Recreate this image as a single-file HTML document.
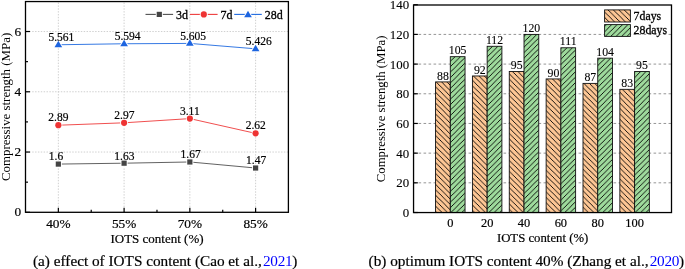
<!DOCTYPE html><html><head><meta charset="utf-8"><style>html,body{margin:0;padding:0;background:#fff;}svg{display:block;will-change:transform;}text{font-family:"Liberation Serif",serif;fill:#000;}.b{stroke:#000;stroke-width:0.3px;}.m{stroke:#000;stroke-width:0.2px;}.s{stroke:#000;stroke-width:0.1px;}tspan{stroke:none;}</style></head><body>
<svg width="685" height="269" viewBox="0 0 685 269">
<defs>
<pattern id="ho" patternUnits="userSpaceOnUse" width="5.42" height="5.42" x="1.9" y="0"><rect width="5.42" height="5.42" fill="#FDC694"/><path d="M-1,-1 L6.42,6.42 M-1,4.42 L1,6.42 M4.42,-1 L6.42,1" stroke="#000" stroke-width="0.9"/></pattern>
<pattern id="hg" patternUnits="userSpaceOnUse" width="5.42" height="5.42" x="2.2" y="0"><rect width="5.42" height="5.42" fill="#9EDA9C"/><path d="M-1,6.42 L6.42,-1 M-1,1 L1,-1 M4.42,6.42 L6.42,4.42" stroke="#000" stroke-width="0.9"/></pattern>
</defs>
<g stroke="#cbcbcb" stroke-width="0.9" stroke-dasharray="1.43 1.43" stroke-dashoffset="-1"><line x1="25.5" y1="152.04" x2="288.4" y2="152.04"/><line x1="25.5" y1="91.78" x2="288.4" y2="91.78"/><line x1="25.5" y1="31.52" x2="288.4" y2="31.52"/><line x1="58.35" y1="1.55" x2="58.35" y2="212.3"/><line x1="124.1" y1="1.55" x2="124.1" y2="212.3"/><line x1="189.85" y1="1.55" x2="189.85" y2="212.3"/><line x1="255.6" y1="1.55" x2="255.6" y2="212.3"/></g>
<g stroke="#000" stroke-width="1.2"><line x1="25.5" y1="212.30" x2="30.0" y2="212.30"/><line x1="25.5" y1="152.04" x2="30.0" y2="152.04"/><line x1="25.5" y1="91.78" x2="30.0" y2="91.78"/><line x1="25.5" y1="31.52" x2="30.0" y2="31.52"/><line x1="25.5" y1="182.17" x2="28.0" y2="182.17"/><line x1="25.5" y1="121.91" x2="28.0" y2="121.91"/><line x1="25.5" y1="61.65" x2="28.0" y2="61.65"/><line x1="58.35" y1="212.3" x2="58.35" y2="207.8"/><line x1="124.1" y1="212.3" x2="124.1" y2="207.8"/><line x1="189.85" y1="212.3" x2="189.85" y2="207.8"/><line x1="255.6" y1="212.3" x2="255.6" y2="207.8"/><line x1="91.225" y1="212.3" x2="91.225" y2="209.8"/><line x1="156.975" y1="212.3" x2="156.975" y2="209.8"/><line x1="222.725" y1="212.3" x2="222.725" y2="209.8"/></g>
<polyline points="58.35,164.09 124.10,163.19 189.85,161.98 255.60,168.01" fill="none" stroke="#505050" stroke-width="0.9"/>
<rect x="55.75" y="161.49" width="5.2" height="5.2" fill="#fff" stroke="#fff" stroke-width="1.8" stroke-linejoin="round"/><rect x="55.75" y="161.49" width="5.2" height="5.2" fill="#444444"/>
<rect x="121.50" y="160.59" width="5.2" height="5.2" fill="#fff" stroke="#fff" stroke-width="1.8" stroke-linejoin="round"/><rect x="121.50" y="160.59" width="5.2" height="5.2" fill="#444444"/>
<rect x="187.25" y="159.38" width="5.2" height="5.2" fill="#fff" stroke="#fff" stroke-width="1.8" stroke-linejoin="round"/><rect x="187.25" y="159.38" width="5.2" height="5.2" fill="#444444"/>
<rect x="253.00" y="165.41" width="5.2" height="5.2" fill="#fff" stroke="#fff" stroke-width="1.8" stroke-linejoin="round"/><rect x="253.00" y="165.41" width="5.2" height="5.2" fill="#444444"/>
<polyline points="58.35,125.22 124.10,122.81 189.85,118.60 255.60,133.36" fill="none" stroke="#EE3B3B" stroke-width="0.9"/>
<circle cx="58.35" cy="125.22" r="3.1" fill="#fff" stroke="#fff" stroke-width="1.8" stroke-linejoin="round"/><circle cx="58.35" cy="125.22" r="3.1" fill="#EE3434"/>
<circle cx="124.10" cy="122.81" r="3.1" fill="#fff" stroke="#fff" stroke-width="1.8" stroke-linejoin="round"/><circle cx="124.10" cy="122.81" r="3.1" fill="#EE3434"/>
<circle cx="189.85" cy="118.60" r="3.1" fill="#fff" stroke="#fff" stroke-width="1.8" stroke-linejoin="round"/><circle cx="189.85" cy="118.60" r="3.1" fill="#EE3434"/>
<circle cx="255.60" cy="133.36" r="3.1" fill="#fff" stroke="#fff" stroke-width="1.8" stroke-linejoin="round"/><circle cx="255.60" cy="133.36" r="3.1" fill="#EE3434"/>
<polyline points="58.35,44.75 124.10,43.75 189.85,43.42 255.60,48.81" fill="none" stroke="#1F6AE0" stroke-width="0.9"/>
<path d="M58.35,40.70 L62.20,47.15 L54.50,47.15 Z" fill="#fff" stroke="#fff" stroke-width="1.8" stroke-linejoin="round"/><path d="M58.35,40.70 L62.20,47.15 L54.50,47.15 Z" fill="#1C64E0"/>
<path d="M124.10,39.70 L127.95,46.15 L120.25,46.15 Z" fill="#fff" stroke="#fff" stroke-width="1.8" stroke-linejoin="round"/><path d="M124.10,39.70 L127.95,46.15 L120.25,46.15 Z" fill="#1C64E0"/>
<path d="M189.85,39.37 L193.70,45.82 L186.00,45.82 Z" fill="#fff" stroke="#fff" stroke-width="1.8" stroke-linejoin="round"/><path d="M189.85,39.37 L193.70,45.82 L186.00,45.82 Z" fill="#1C64E0"/>
<path d="M255.60,44.76 L259.45,51.21 L251.75,51.21 Z" fill="#fff" stroke="#fff" stroke-width="1.8" stroke-linejoin="round"/><path d="M255.60,44.76 L259.45,51.21 L251.75,51.21 Z" fill="#1C64E0"/>
<text class="m" x="55.95" y="160.49" font-size="11.5" text-anchor="middle">1.6</text>
<text class="m" x="124.40" y="159.59" font-size="11.5" text-anchor="middle">1.63</text>
<text class="m" x="190.65" y="158.38" font-size="11.5" text-anchor="middle">1.67</text>
<text class="m" x="256.10" y="164.41" font-size="11.5" text-anchor="middle">1.47</text>
<text class="m" x="58.35" y="121.32" font-size="11.5" text-anchor="middle">2.89</text>
<text class="m" x="124.40" y="118.91" font-size="11.5" text-anchor="middle">2.97</text>
<text class="m" x="189.85" y="114.70" font-size="11.5" text-anchor="middle">3.11</text>
<text class="m" x="255.80" y="129.46" font-size="11.5" text-anchor="middle">2.62</text>
<text class="m" x="61.35" y="41.25" font-size="11.5" text-anchor="middle">5.561</text>
<text class="m" x="127.60" y="40.25" font-size="11.5" text-anchor="middle">5.594</text>
<text class="m" x="193.15" y="39.92" font-size="11.5" text-anchor="middle">5.605</text>
<text class="m" x="258.80" y="45.31" font-size="11.5" text-anchor="middle">5.426</text>
<line x1="145.5" y1="14.4" x2="173.1" y2="14.4" stroke="#505050" stroke-width="1.1"/>
<rect x="156.70" y="11.80" width="5.2" height="5.2" fill="#fff" stroke="#fff" stroke-width="1.8" stroke-linejoin="round"/><rect x="156.70" y="11.80" width="5.2" height="5.2" fill="#444444"/>
<text class="b" x="176.1" y="18.9" font-size="12">3d</text>
<line x1="190" y1="14.4" x2="217.6" y2="14.4" stroke="#EE3B3B" stroke-width="1.1"/>
<circle cx="203.80" cy="14.40" r="3.1" fill="#fff" stroke="#fff" stroke-width="1.8" stroke-linejoin="round"/><circle cx="203.80" cy="14.40" r="3.1" fill="#EE3434"/>
<text class="b" x="220.6" y="18.9" font-size="12">7d</text>
<line x1="234.2" y1="14.4" x2="261.8" y2="14.4" stroke="#1F6AE0" stroke-width="1.1"/>
<path d="M248.00,10.75 L251.85,17.20 L244.15,17.20 Z" fill="#fff" stroke="#fff" stroke-width="1.8" stroke-linejoin="round"/><path d="M248.00,10.75 L251.85,17.20 L244.15,17.20 Z" fill="#1C64E0"/>
<text class="b" x="264.8" y="18.9" font-size="12">28d</text>
<rect x="25.5" y="1.55" width="262.90" height="210.75" fill="none" stroke="#000" stroke-width="1.3"/>
<text class="m" x="21.1" y="216.40" font-size="13.3" text-anchor="end">0</text>
<text class="m" x="21.1" y="156.14" font-size="13.3" text-anchor="end">2</text>
<text class="m" x="21.1" y="95.88" font-size="13.3" text-anchor="end">4</text>
<text class="m" x="21.1" y="35.62" font-size="13.3" text-anchor="end">6</text>
<text class="m" x="58.35" y="227.7" font-size="13.3" text-anchor="middle">40%</text>
<text class="m" x="124.10" y="227.7" font-size="13.3" text-anchor="middle">55%</text>
<text class="m" x="189.85" y="227.7" font-size="13.3" text-anchor="middle">70%</text>
<text class="m" x="255.60" y="227.7" font-size="13.3" text-anchor="middle">85%</text>
<text class="m" x="157" y="242.9" font-size="13" text-anchor="middle">IOTS content (%)</text>
<text transform="translate(10.2,106.9) rotate(-90)" font-size="12.9" text-anchor="middle">Compressive strength (MPa)</text>
<text class="m" x="33" y="265.8" font-size="15.25">(a) effect of IOTS content (Cao et al.,<tspan fill="#0000FF" dx="1.2" letter-spacing="-0.3">2021</tspan>)</text>
<g stroke="#8a8a8a" stroke-width="0.9" stroke-dasharray="2.6 2.4"><line x1="413.55" y1="182.82" x2="671.5" y2="182.82"/><line x1="413.55" y1="153.14" x2="671.5" y2="153.14"/><line x1="413.55" y1="123.46" x2="671.5" y2="123.46"/><line x1="413.55" y1="93.78" x2="671.5" y2="93.78"/><line x1="413.55" y1="64.10" x2="671.5" y2="64.10"/><line x1="413.55" y1="34.42" x2="671.5" y2="34.42"/></g>
<g stroke="#000" stroke-width="1.2"><line x1="413.55" y1="212.50" x2="417.85" y2="212.50"/><line x1="413.55" y1="182.82" x2="417.85" y2="182.82"/><line x1="413.55" y1="153.14" x2="417.85" y2="153.14"/><line x1="413.55" y1="123.46" x2="417.85" y2="123.46"/><line x1="413.55" y1="93.78" x2="417.85" y2="93.78"/><line x1="413.55" y1="64.10" x2="417.85" y2="64.10"/><line x1="413.55" y1="34.42" x2="417.85" y2="34.42"/><line x1="413.55" y1="4.74" x2="417.85" y2="4.74"/></g>
<rect x="435.56" y="81.91" width="14.74" height="130.64" fill="url(#ho)" stroke="#111" stroke-width="0.9"/>
<rect x="450.30" y="56.68" width="14.74" height="155.87" fill="url(#hg)" stroke="#111" stroke-width="0.9"/>
<text class="s" x="442.93" y="79.61" font-size="11.8" text-anchor="middle">88</text>
<text class="s" x="457.67" y="54.38" font-size="11.8" text-anchor="middle">105</text>
<rect x="472.42" y="75.97" width="14.74" height="136.58" fill="url(#ho)" stroke="#111" stroke-width="0.9"/>
<rect x="487.16" y="46.29" width="14.74" height="166.26" fill="url(#hg)" stroke="#111" stroke-width="0.9"/>
<text class="s" x="479.79" y="73.67" font-size="11.8" text-anchor="middle">92</text>
<text class="s" x="494.53" y="43.99" font-size="11.8" text-anchor="middle">112</text>
<rect x="509.28" y="71.52" width="14.74" height="141.03" fill="url(#ho)" stroke="#111" stroke-width="0.9"/>
<rect x="524.02" y="34.42" width="14.74" height="178.13" fill="url(#hg)" stroke="#111" stroke-width="0.9"/>
<text class="s" x="516.65" y="69.22" font-size="11.8" text-anchor="middle">95</text>
<text class="s" x="531.39" y="32.12" font-size="11.8" text-anchor="middle">120</text>
<rect x="546.14" y="78.94" width="14.74" height="133.61" fill="url(#ho)" stroke="#111" stroke-width="0.9"/>
<rect x="560.88" y="47.78" width="14.74" height="164.77" fill="url(#hg)" stroke="#111" stroke-width="0.9"/>
<text class="s" x="553.51" y="76.64" font-size="11.8" text-anchor="middle">90</text>
<text class="s" x="568.25" y="45.48" font-size="11.8" text-anchor="middle">111</text>
<rect x="583.00" y="83.39" width="14.74" height="129.16" fill="url(#ho)" stroke="#111" stroke-width="0.9"/>
<rect x="597.74" y="58.16" width="14.74" height="154.39" fill="url(#hg)" stroke="#111" stroke-width="0.9"/>
<text class="s" x="590.37" y="81.09" font-size="11.8" text-anchor="middle">87</text>
<text class="s" x="605.11" y="55.86" font-size="11.8" text-anchor="middle">104</text>
<rect x="619.86" y="89.33" width="14.74" height="123.22" fill="url(#ho)" stroke="#111" stroke-width="0.9"/>
<rect x="634.60" y="71.52" width="14.74" height="141.03" fill="url(#hg)" stroke="#111" stroke-width="0.9"/>
<text class="s" x="627.23" y="87.03" font-size="11.8" text-anchor="middle">83</text>
<text class="s" x="641.97" y="69.22" font-size="11.8" text-anchor="middle">95</text>
<rect x="604.6" y="9.9" width="25.8" height="12.1" fill="url(#ho)" stroke="#111" stroke-width="0.9"/>
<rect x="604.6" y="24.6" width="25.8" height="11.8" fill="url(#hg)" stroke="#111" stroke-width="0.9"/>
<text class="b" x="633.6" y="19.6" font-size="11.8">7days</text>
<text class="b" x="633.6" y="34.2" font-size="11.8">28days</text>
<rect x="413.55" y="5.0" width="257.95" height="207.55" fill="none" stroke="#000" stroke-width="1.3"/>
<text class="s" x="409.2" y="217.00" font-size="12.9" text-anchor="end">0</text>
<text class="s" x="409.2" y="187.32" font-size="12.9" text-anchor="end">20</text>
<text class="s" x="409.2" y="157.64" font-size="12.9" text-anchor="end">40</text>
<text class="s" x="409.2" y="127.96" font-size="12.9" text-anchor="end">60</text>
<text class="s" x="409.2" y="98.28" font-size="12.9" text-anchor="end">80</text>
<text class="s" x="409.2" y="68.60" font-size="12.9" text-anchor="end">100</text>
<text class="s" x="409.2" y="38.92" font-size="12.9" text-anchor="end">120</text>
<text class="s" x="409.2" y="9.24" font-size="12.9" text-anchor="end">140</text>
<text class="m" x="450.30" y="227" font-size="12.4" text-anchor="middle">0</text>
<text class="m" x="487.16" y="227" font-size="12.4" text-anchor="middle">20</text>
<text class="m" x="524.02" y="227" font-size="12.4" text-anchor="middle">40</text>
<text class="m" x="560.88" y="227" font-size="12.4" text-anchor="middle">60</text>
<text class="m" x="597.74" y="227" font-size="12.4" text-anchor="middle">80</text>
<text class="m" x="634.60" y="227" font-size="12.4" text-anchor="middle">100</text>
<text class="m" x="542.6" y="241.7" font-size="12.75" text-anchor="middle">IOTS content (%)</text>
<text transform="translate(385.3,108.9) rotate(-90)" font-size="12.75" text-anchor="middle">Compressive strength (MPa)</text>
<text class="m" x="368.6" y="265.5" font-size="15.25">(b) optimum IOTS content 40% (Zhang et al.,<tspan fill="#0000FF" dx="1.2" letter-spacing="-0.3">2020</tspan>)</text>
</svg></body></html>
